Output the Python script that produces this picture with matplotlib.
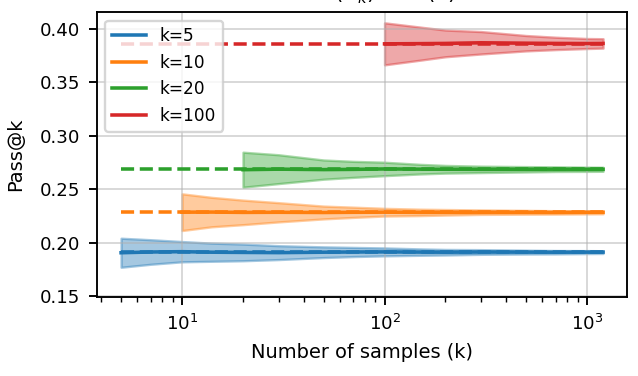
import matplotlib
matplotlib.use("Agg")
import matplotlib.pyplot as plt
import numpy as np

plt.rcParams['font.size'] = 7

# true pass@k values (dashed reference lines)
ks = [5, 10, 20, 100]
true_vals = [0.1912, 0.2284, 0.2686, 0.3864]
colors = ['tab:blue', 'tab:orange', 'tab:green', 'tab:red']

n_max = 1200

# estimated pass@k vs number of samples: mean and std
n_k5 = [5, 7, 10, 14, 20, 30, 50, 70, 100, 150, 200, 300, 500, 700, 1000, 1200]
mean_k5 = [0.1905, 0.1912, 0.1915, 0.1910, 0.1908, 0.1906, 0.1910, 0.1912,
           0.1913, 0.1911, 0.1910, 0.1912, 0.1911, 0.1910, 0.1911, 0.1911]
std_k5 = [0.0136, 0.0115, 0.0095, 0.0085, 0.0078, 0.0065, 0.0050, 0.0043,
          0.0037, 0.0030, 0.0026, 0.0022, 0.0018, 0.0016, 0.0014, 0.0013]

n_k10 = [10, 14, 20, 30, 50, 70, 100, 150, 200, 300, 500, 700, 1000, 1200]
mean_k10 = [0.2285, 0.2286, 0.2283, 0.2284, 0.2282, 0.2284, 0.2285,
            0.2283, 0.2284, 0.2285, 0.2284, 0.2283, 0.2284, 0.2284]
std_k10 = [0.0172, 0.0138, 0.0115, 0.0090, 0.0060, 0.0048, 0.0036,
           0.0030, 0.0026, 0.0021, 0.0018, 0.0016, 0.0015, 0.0014]

n_k20 = [20, 30, 50, 70, 100, 150, 200, 300, 500, 700, 1000, 1200]
mean_k20 = [0.2683, 0.2688, 0.2684, 0.2686, 0.2690, 0.2688,
            0.2687, 0.2686, 0.2687, 0.2688, 0.2687, 0.2687]
std_k20 = [0.0164, 0.0135, 0.0090, 0.0075, 0.0063, 0.0045,
           0.0036, 0.0030, 0.0025, 0.0022, 0.0020, 0.0019]

n_k100 = [100, 150, 200, 300, 500, 700, 1000, 1200]
mean_k100 = [0.3862, 0.3864, 0.3866, 0.3872, 0.3868, 0.3866, 0.3865, 0.3866]
std_k100 = [0.0197, 0.0155, 0.0125, 0.0105, 0.0072, 0.0058, 0.0047, 0.0044]

series = [(n_k5, mean_k5, std_k5), (n_k10, mean_k10, std_k10),
          (n_k20, mean_k20, std_k20), (n_k100, mean_k100, std_k100)]

fig = plt.figure(figsize=(638/170, 376/170), dpi=170)
ax = fig.add_axes([0.152, 0.21, 0.831, 0.758])

for k, tv, c, (n, m, s) in zip(ks, true_vals, colors, series):
    n = np.array(n)
    m = np.array(m)
    s = np.array(s)
    ax.plot([ks[0], n_max], [tv, tv], '--', color=c)
    ax.fill_between(n, m - s, m + s, color=c, alpha=0.4)
    ax.plot(n, m, color=c, label=f"k={k}")

ax.set_xscale('log')
ax.set_ylim(0.149, 0.416)
ax.grid(True, alpha=0.5)
ax.tick_params(labelsize=7.7)
ax.legend(loc='upper left', fontsize=7.2)
ax.set_xlabel("Number of samples (k)", fontsize=8.2)
ax.set_ylabel("Pass@k", fontsize=8.2, labelpad=6.5)
ax.set_title(r"$E(\hat{A}_k)$ vs $A(k)$", x=0.55, fontsize=9, pad=5)

fig.savefig("out.png", dpi=170)
